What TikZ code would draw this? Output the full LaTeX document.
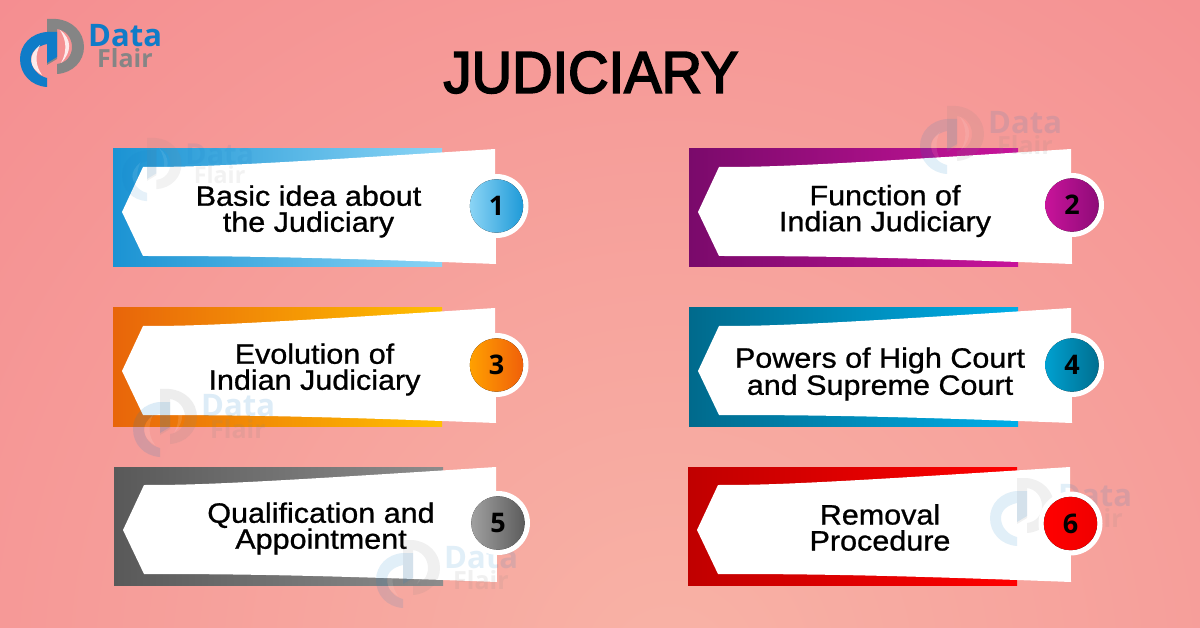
\documentclass[tikz,border=0pt]{standalone}
\usepackage{fontspec}
\setmainfont{Open Sans}
\newfontfamily\titlefont[FakeBold=3,FakeStretch=0.95]{Liberation Sans}
\newfontfamily\cardfont[FakeBold=0.9,FakeStretch=1.09]{Liberation Sans}
\definecolor{bgout}{HTML}{F4868C}
\definecolor{bgin}{HTML}{F8B3A6}
\definecolor{logoblue}{HTML}{0F7CC8}
\definecolor{logogray}{HTML}{858585}
\tikzset{
  cardtext/.style={align=center,font=\cardfont\fontsize{28}{26}\selectfont,text=black,inner sep=0pt},
  numtext/.style={font=\fontsize{27}{27}\selectfont\bfseries,text=black,inner sep=0pt},
  titletext/.style={font=\titlefont\fontsize{59}{59}\selectfont,text=black,inner sep=0pt},
  logoD/.style={font=\fontsize{31}{31}\selectfont\bfseries,text=logoblue,inner sep=0pt,anchor=base west,transform shape},
  logoF/.style={font=\fontsize{25}{25}\selectfont\bfseries,text=logogray,inner sep=0pt,anchor=base west,transform shape}
}
% #1 name, #2 x, #3 y (top-left of band), #4 left col, #5 right col, #6 text x, #7 text y, #8 text
\newcommand\card[8]{%
  \begin{scope}[shift={(#2,#3)}]
    \definecolor{bandL}{HTML}{#4}\definecolor{bandR}{HTML}{#5}%
    \fill[left color=bandL,right color=bandR] (0,0) rectangle (329,118);
    \path[fill=white] (9,63) -- (30,18) .. controls (80,18) and (120,17) .. (382,0)
      -- (383,115) .. controls (200,108) and (120,107) .. (30,107) -- cycle;
    \node[cardtext] (#1txt) at (#6,#7) {#8};
  \end{scope}}
% #1 name, #2 x, #3 y (centre), #4 left col, #5 right col, #6 number
\newcommand\badge[6]{%
  \definecolor{dotL}{HTML}{#4}\definecolor{dotR}{HTML}{#5}%
  \node[circle,fill=white,minimum size=64pt,inner sep=0pt] (#1ring) at (#2,#3) {};
  \fill[left color=dotL,right color=dotR] (#1ring.center) circle (26.7);
  \node[numtext] (#1num) at (#1ring.center) {#6};}
% #1 name, #2 x, #3 y, #4 scale, #5 opacity
\newcommand\logomark[5]{%
  \pgfmathsetmacro\cresop{.82*#5}%
  \begin{scope}[shift={(#2,#3)},scale=#4,opacity=#5]
    \fill[logogray] (27,0) -- (36,0) .. controls (52,1) and (64,13) .. (64,28)
      .. controls (64,42) and (53,54) .. (37,55) -- (37,45)
      .. controls (46,44) and (52,37) .. (52,28) .. controls (52,18) and (45,11) .. (37,10)
      -- (37,40) -- (27,46) -- cycle;
    \fill[logoblue] (27,68) .. controls (11,67) and (0,55) .. (0,40)
      .. controls (0,26) and (11,14) .. (27,13) -- (37,13) -- (37,38) -- (27,44) -- (27,25)
      .. controls (18,27) and (11,32) .. (11,40) .. controls (11,49) and (18,57) .. (27,59) -- cycle;
    \fill[white,opacity=\cresop] (20,26) .. controls (8,36) and (8,48) .. (22,56)
      .. controls (15,46) and (15,36) .. (20,26) -- cycle;
    \fill[white,opacity=\cresop] (40,11) .. controls (52,20) and (52,33) .. (41,44)
      .. controls (47,33) and (47,22) .. (40,11) -- cycle;
    \node[logoD] (#1d) at (68,28) {Data};
    \node[logoF] (#1f) at (77,49) {Flair};
  \end{scope}}
\begin{document}
\begin{tikzpicture}[x=1pt,y=-1pt]
\useasboundingbox (0,0) rectangle (1200,628);
\begin{scope}
  \clip (0,0) rectangle (1200,628);
  \fill[inner color=bgin,outer color=bgout] (670,670) circle (1150);
\end{scope}
\logomark{main}{20}{19}{1}{1}
\card{a}{113}{149}{1B93D3}{8AD4F5}{195.5}{62.5}{Basic idea about\\the Judiciary}
\card{b}{689}{149}{7A0A6B}{C8139A}{196}{62}{Function of\\Indian Judiciary}
\card{c}{113}{308}{E8650A}{FFC000}{201.5}{61.5}{Evolution of\\Indian Judiciary}
\card{d}{689}{308}{006A8C}{00AEE8}{191}{66}{Powers of High Court\\and Supreme Court}
\card{e}{114}{467}{595959}{8C8C8C}{207}{61.5}{Qualification and\\Appointment}
\card{f}{688}{467}{C00000}{FF0000}{192}{60.5}{Removal\\Procedure}
\logomark{wa}{122}{138}{.93}{.1}
\logomark{wb}{920}{106}{1}{.12}
\logomark{wc}{133}{389}{1}{.14}
\logomark{wd}{376}{540}{1}{.12}
\logomark{we}{990}{478}{1}{.12}
\badge{a}{496.5}{206}{8AD4F5}{1F9AD8}{1}
\badge{b}{1072}{205}{C8139A}{8E0B78}{2}
\badge{c}{496.5}{365}{FFA000}{F0600A}{3}
\badge{d}{1072}{365}{00A0D0}{006F90}{4}
\badge{e}{498}{523}{A0A0A0}{5C5C5C}{5}
\badge{f}{1070.5}{523.5}{FF0000}{F00000}{6}
\node[titletext] (title) at (591,72.5) {JUDICIARY};
\end{tikzpicture}
\end{document}
